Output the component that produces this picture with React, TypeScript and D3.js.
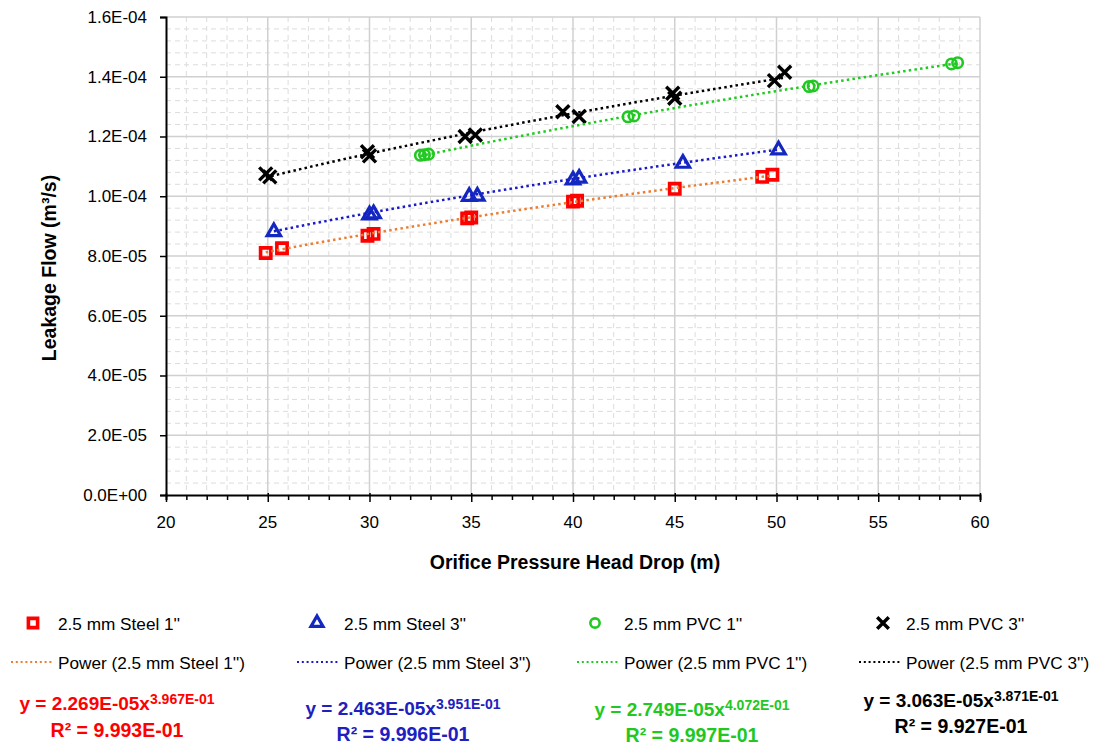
import { useEffect, useRef } from 'react';
import * as d3 from 'd3';

// axis ticks
const xTicks = [20, 25, 30, 35, 40, 45, 50, 55, 60];
const yTickValues = [0, 2e-5, 4e-5, 6e-5, 8e-5, 1.0e-4, 1.2e-4, 1.4e-4, 1.6e-4];
const yTickLabels = ['0.0E+00', '2.0E-05', '4.0E-05', '6.0E-05', '8.0E-05', '1.0E-04', '1.2E-04', '1.4E-04', '1.6E-04'];

const seriesNames = ["2.5 mm Steel 1''", "2.5 mm Steel 3''", "2.5 mm PVC 1''", "2.5 mm PVC 3''"];

// measured points (head drop m, flow m3/s)
const steel1X = [24.9, 25.7, 29.9, 30.2, 34.8, 35.0, 40.0, 40.2, 45.0, 49.3, 49.8];
const steel1Y = [8.10e-5, 8.26e-5, 8.68e-5, 8.74e-5, 9.26e-5, 9.29e-5, 9.82e-5, 9.85e-5, 1.025e-4, 1.065e-4, 1.072e-4];

const steel3X = [25.3, 30.0, 30.2, 34.9, 35.3, 40.0, 40.3, 45.4, 50.1];
const steel3Y = [8.81e-5, 9.37e-5, 9.41e-5, 9.99e-5, 1.0e-4, 1.054e-4, 1.06e-4, 1.11e-4, 1.155e-4];

const pvc1X = [32.5, 32.7, 32.9, 42.7, 43.0, 51.6, 51.8, 58.6, 58.9];
const pvc1Y = [1.137e-4, 1.139e-4, 1.141e-4, 1.266e-4, 1.269e-4, 1.367e-4, 1.369e-4, 1.443e-4, 1.447e-4];

const pvc3X = [24.9, 25.1, 29.9, 30.0, 34.7, 35.2, 39.5, 40.3, 44.9, 45.0, 49.9, 50.4];
const pvc3Y = [1.075e-4, 1.065e-4, 1.149e-4, 1.135e-4, 1.2e-4, 1.205e-4, 1.283e-4, 1.267e-4, 1.345e-4, 1.328e-4, 1.387e-4, 1.415e-4];

// power trendlines y = a * x^b
const fitCoef = [2.269e-5, 2.463e-5, 2.749e-5, 3.063e-5];
const fitExp = [0.3967, 0.3951, 0.4072, 0.3871];
const eqMain = ['y = 2.269E-05x', 'y = 2.463E-05x', 'y = 2.749E-05x', 'y = 3.063E-05x'];
const eqSup = ['3.967E-01', '3.951E-01', '4.072E-01', '3.871E-01'];
const r2Labels = ['R² = 9.993E-01', 'R² = 9.996E-01', 'R² = 9.997E-01', 'R² = 9.927E-01'];

const markerColor = ['#FF0000', '#1428C0', '#22C822', '#000000'];
const trendColor = ['#ED7D31', '#1A1ACD', '#1ECB1E', '#000000'];
const eqColor = ['#FF0000', '#2020C0', '#22C822', '#000000'];

const FONT = '"Liberation Sans", Arial, sans-serif';

export default function App() {
  const ref = useRef<SVGSVGElement>(null);

  useEffect(() => {
    const width = 1094;
    const height = 747;
    const left = 166, right = 980, top = 17, bottom = 495;

    const svg = d3.select(ref.current);
    svg.selectAll('*').remove();
    svg.attr('width', width).attr('height', height);

    const x = d3.scaleLinear().domain([20, 60]).range([left, right]);
    const y = d3.scaleLinear().domain([0, 1.6e-4]).range([bottom, top]);

    const series = [
      { xs: steel1X, ys: steel1Y, type: d3.symbolSquare, size: 106, sw: 3.6 },
      { xs: steel3X, ys: steel3Y, type: d3.symbolTriangle, size: 78, sw: 3.2 },
      { xs: pvc1X, ys: pvc1Y, type: d3.symbolCircle, size: 85, sw: 2.6 },
      { xs: pvc3X, ys: pvc3Y, type: d3.symbolX, size: 112, sw: 3.4 },
    ];

    // minor grid
    const g = svg.append('g');
    d3.range(20, 61, 1).filter(v => v % 5 !== 0).forEach(v => {
      g.append('line').attr('x1', x(v)).attr('x2', x(v)).attr('y1', top).attr('y2', bottom)
        .attr('stroke', '#DCDCDC').attr('stroke-width', 1).attr('stroke-dasharray', '5,4');
    });
    d3.range(0, 41, 1).filter(i => i % 5 !== 0).forEach(i => {
      const v = i * 4e-6;
      g.append('line').attr('x1', left).attr('x2', right).attr('y1', y(v)).attr('y2', y(v))
        .attr('stroke', '#DCDCDC').attr('stroke-width', 1).attr('stroke-dasharray', '5,4');
    });
    // major grid
    xTicks.slice(1).forEach(v => {
      g.append('line').attr('x1', x(v)).attr('x2', x(v)).attr('y1', top).attr('y2', bottom)
        .attr('stroke', '#D0D0D0').attr('stroke-width', 1.5);
    });
    yTickValues.slice(1).forEach(v => {
      g.append('line').attr('x1', left).attr('x2', right).attr('y1', y(v)).attr('y2', y(v))
        .attr('stroke', '#D0D0D0').attr('stroke-width', 1.5);
    });

    // axes
    const xAxis = svg.append('g').attr('transform', `translate(0,${bottom})`)
      .call(d3.axisBottom(x).tickValues(d3.range(20, 61, 1)).tickSize(5).tickFormat(() => ''));
    xAxis.select('.domain').attr('stroke', '#000').attr('stroke-width', 2);
    xAxis.selectAll('.tick line').attr('stroke', '#000').attr('stroke-width', 1.5)
      .attr('y1', (d: any) => (d % 5 === 0 ? -2 : 0)).attr('y2', (d: any) => (d % 5 === 0 ? 7 : 5));
    svg.append('g').selectAll('text').data(xTicks).enter().append('text')
      .attr('x', d => x(d)).attr('y', 528).attr('text-anchor', 'middle')
      .style('font-family', FONT).style('font-size', '17px').attr('fill', '#000').text(d => String(d));

    const yAxis = svg.append('g').attr('transform', `translate(${left},0)`)
      .call(d3.axisLeft(y).tickValues(yTickValues).tickSize(6).tickFormat((_d, i) => yTickLabels[i]));
    yAxis.select('.domain').attr('stroke', '#000').attr('stroke-width', 2);
    yAxis.selectAll('.tick line').attr('stroke', '#000').attr('stroke-width', 1.5);
    yAxis.selectAll('.tick text').attr('x', -19).attr('fill', '#000')
      .style('font-family', FONT).style('font-size', '17px');

    // axis titles
    svg.append('text').attr('x', 575).attr('y', 569).attr('text-anchor', 'middle')
      .style('font-family', FONT).style('font-size', '19.5px').style('font-weight', 'bold')
      .text('Orifice Pressure Head Drop (m)');
    svg.append('text').attr('transform', 'translate(56,268) rotate(-90)').attr('text-anchor', 'middle')
      .style('font-family', FONT).style('font-size', '19.5px').style('font-weight', 'bold')
      .text('Leakage Flow (m³/s)');

    // markers
    series.forEach((s, i) => {
      const sym = d3.symbol().type(s.type).size(s.size);
      svg.append('g').selectAll('path').data(s.xs).enter().append('path')
        .attr('d', sym as any)
        .attr('transform', (d, j) => `translate(${x(d)},${y(s.ys[j])})`)
        .attr('fill', 'none').attr('stroke', markerColor[i]).attr('stroke-width', s.sw)
        .attr('stroke-linejoin', 'miter');
    });

    // trendlines
    series.forEach((s, i) => {
      const [x0, x1] = d3.extent(s.xs) as [number, number];
      const pts = d3.range(0, 61).map(k => x0 + (x1 - x0) * k / 60);
      const line = d3.line<number>().x(d => x(d)).y(d => y(fitCoef[i] * Math.pow(d, fitExp[i])));
      svg.append('path').attr('d', line(pts)).attr('fill', 'none')
        .attr('stroke', trendColor[i]).attr('stroke-width', 2.5).attr('stroke-dasharray', '2.5,3.2');
    });

    // legend
    const legX = [58, 344, 624, 906];
    const markX = [33, 317, 595, 883];
    series.forEach((s, i) => {
      const sym = d3.symbol().type(s.type).size(s.size * 0.8);
      svg.append('path').attr('d', sym as any).attr('transform', `translate(${markX[i]},623)`)
        .attr('fill', 'none').attr('stroke', markerColor[i]).attr('stroke-width', s.sw);
      svg.append('text').attr('x', legX[i]).attr('y', 629.5)
        .style('font-family', FONT).style('font-size', '17.2px').attr('fill', '#000').text(seriesNames[i]);
      svg.append('line').attr('x1', legX[i] - 47).attr('x2', legX[i] - 4).attr('y1', 662).attr('y2', 662)
        .attr('stroke', trendColor[i]).attr('stroke-width', 2).attr('stroke-dasharray', '2,2.8');
      svg.append('text').attr('x', legX[i]).attr('y', 668.5)
        .style('font-family', FONT).style('font-size', '17.2px').attr('fill', '#000')
        .text(`Power (${seriesNames[i]})`);
    });

    // equations
    const eqX = [117, 403, 692, 961];
    const eqY = [710, 715, 716, 707];
    const r2Y = [737, 741, 742, 733];
    eqMain.forEach((t, i) => {
      const txt = svg.append('text').attr('x', eqX[i]).attr('y', eqY[i]).attr('text-anchor', 'middle')
        .style('font-family', FONT).style('font-weight', 'bold').style('font-size', '19px')
        .attr('fill', eqColor[i]);
      txt.append('tspan').text(t);
      txt.append('tspan').attr('dy', -6).style('font-size', '14px').text(eqSup[i]);
      svg.append('text').attr('x', eqX[i]).attr('y', r2Y[i]).attr('text-anchor', 'middle')
        .style('font-family', FONT).style('font-weight', 'bold').style('font-size', '19.5px')
        .attr('fill', eqColor[i]).text(r2Labels[i]);
    });
  }, []);

  return <svg ref={ref} style={{ position: 'absolute', left: 0, top: 0, background: '#fff' }} />;
}
